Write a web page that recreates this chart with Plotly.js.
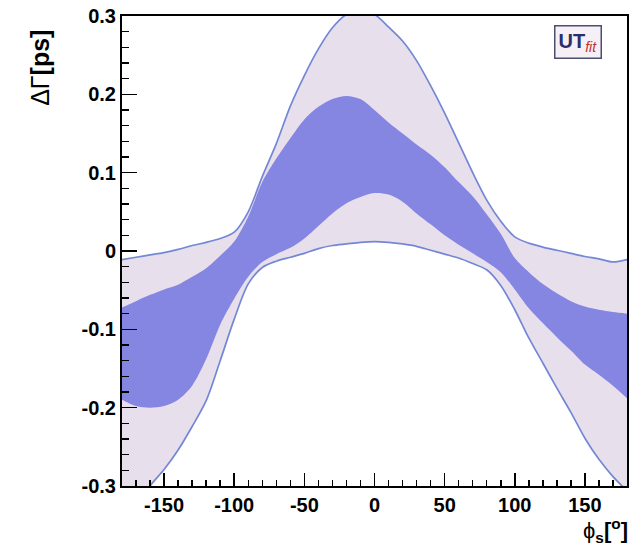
<!DOCTYPE html>
<html>
<head>
<meta charset="utf-8">
<script src="https://cdn.plot.ly/plotly-3.0.1.min.js"></script>
<style>html,body{margin:0;padding:0;background:#fff;}#chart{width:634px;height:547px;}</style>
</head>
<body>
<div id="chart"></div>
<script>
// phi_s grid (degrees)
const phi = [-180,-170,-160,-150,-140,-130,-120,-110,-100,-90,-80,-70,-60,-50,-40,-30,-20,-10,0,
             10,20,30,40,50,60,70,80,90,100,110,120,130,140,150,160,170,180];
// outer (light) band upper edge, Delta Gamma [ps]
const outerUpper = [-0.011,-0.008,-0.005,-0.002,0.002,0.007,0.011,0.016,0.024,0.050,0.095,0.137,0.185,0.224,0.258,0.285,0.302,0.307,0.302,
                    0.286,0.268,0.243,0.211,0.176,0.138,0.100,0.065,0.038,0.018,0.010,0.005,0.001,-0.003,-0.007,-0.010,-0.014,-0.011];
// outer band lower edge
const outerLower = [-0.360,-0.330,-0.300,-0.279,-0.254,-0.224,-0.191,-0.140,-0.087,-0.042,-0.021,-0.013,-0.008,-0.003,0.003,0.007,0.009,0.011,0.012,
                    0.011,0.009,0.006,0.001,-0.004,-0.009,-0.016,-0.024,-0.044,-0.075,-0.111,-0.143,-0.175,-0.206,-0.239,-0.266,-0.288,-0.306];
// inner (dark) band upper edge
const innerUpper = [-0.072,-0.064,-0.056,-0.049,-0.043,-0.033,-0.022,-0.006,0.012,0.044,0.088,0.118,0.144,0.168,0.184,0.194,0.198,0.194,0.180,
                    0.164,0.150,0.136,0.123,0.107,0.088,0.070,0.047,0.022,-0.009,-0.027,-0.042,-0.054,-0.064,-0.071,-0.075,-0.078,-0.080];
// inner band lower edge
const innerLower = [-0.190,-0.198,-0.200,-0.198,-0.190,-0.172,-0.138,-0.094,-0.061,-0.033,-0.014,-0.004,0.004,0.016,0.032,0.048,0.061,0.069,0.074,
                    0.072,0.063,0.048,0.034,0.020,0.008,-0.003,-0.014,-0.027,-0.049,-0.073,-0.092,-0.110,-0.127,-0.145,-0.158,-0.172,-0.188];

const xTickVals = [-150,-100,-50,0,50,100,150];
const xTickText = ['-150','-100','-50','0','50','100','150'];
const yTickVals = [-0.3,-0.2,-0.1,0,0.1,0.2,0.3];
const yTickText = ['-0.3','-0.2','-0.1','0','0.1','0.2','0.3'];

const lightFill = '#e8dfec';
const darkFill = '#8585e2';
const edgeColor = '#7487d6';
const sp = {shape:'spline', smoothing:0.85};

const traces = [
  {x: phi, y: outerLower, mode:'lines', line:Object.assign({width:0, color:edgeColor}, sp), hoverinfo:'skip', showlegend:false},
  {x: phi, y: outerUpper, mode:'lines', fill:'tonexty', fillcolor:lightFill, line:Object.assign({width:0, color:edgeColor}, sp), hoverinfo:'skip', showlegend:false},
  {x: phi, y: innerLower, mode:'lines', line:Object.assign({width:0, color:darkFill}, sp), hoverinfo:'skip', showlegend:false},
  {x: phi, y: innerUpper, mode:'lines', fill:'tonexty', fillcolor:darkFill, line:Object.assign({width:0, color:darkFill}, sp), hoverinfo:'skip', showlegend:false},
  {x: phi, y: outerLower, mode:'lines', line:Object.assign({width:1.7, color:edgeColor}, sp), hoverinfo:'skip', showlegend:false},
  {x: phi, y: outerUpper, mode:'lines', line:Object.assign({width:1.7, color:edgeColor}, sp), hoverinfo:'skip', showlegend:false}
];

const tickFont = {family:'Liberation Sans, Arial, sans-serif', size:20, color:'#000', weight:'bold'};

const layout = {
  width:634, height:547,
  margin:{l:122, r:7, t:16, b:61, pad:0},
  paper_bgcolor:'#fff', plot_bgcolor:'#fff',
  showlegend:false,
  xaxis:{
    range:[-180,180], showgrid:false, zeroline:false,
    showline:true, linecolor:'#000', linewidth:2, mirror:true,
    ticks:'inside', ticklen:13, tickwidth:1.5, tickcolor:'#000',
    tickmode:'array', tickvals:xTickVals, ticktext:xTickText,
    tickfont:tickFont,
    minor:{tickmode:'linear', tick0:0, dtick:10, ticks:'inside', ticklen:6, tickwidth:1.5, tickcolor:'#000', showgrid:false}
  },
  yaxis:{
    range:[-0.3,0.3], showgrid:false, zeroline:false,
    showline:true, linecolor:'#000', linewidth:2, mirror:true,
    ticks:'inside', ticklen:15, tickwidth:1.5, tickcolor:'#000',
    tickmode:'array', tickvals:yTickVals, ticktext:yTickText,
    tickfont:tickFont,
    minor:{tickmode:'linear', tick0:0, dtick:0.02, ticks:'inside', ticklen:7, tickwidth:1.5, tickcolor:'#000', showgrid:false}
  },
  annotations:[
    {text:'ΔΓ<b>[ps]</b>', xref:'paper', yref:'paper', x:-0.163, y:0.889, xanchor:'center', yanchor:'middle',
     textangle:-90, showarrow:false, font:{family:'Liberation Sans, Arial, sans-serif', size:25, color:'#000'}},
    {text:'ϕ<b><sub>s</sub>[<sup>o</sup>]</b>', xref:'paper', yref:'paper', x:1.005, y:-0.095, xanchor:'right', yanchor:'middle',
     showarrow:false, font:{family:'Liberation Sans, Arial, sans-serif', size:22, color:'#000'}},
    {text:'<b>UT</b><span style="color:#c0302a"><i><sub>fit</sub></i></span>', xref:'paper', yref:'paper', x:0.903, y:0.945,
     xanchor:'center', yanchor:'middle', showarrow:false, bgcolor:'#f6f0f6', bordercolor:'#4a4f6e', borderwidth:1.5, borderpad:3,
     font:{family:'Liberation Sans, Arial, sans-serif', size:20, color:'#2a2f6b'}}
  ]
};

Plotly.newPlot('chart', traces, layout, {displayModeBar:false, staticPlot:true});
</script>
</body>
</html>
